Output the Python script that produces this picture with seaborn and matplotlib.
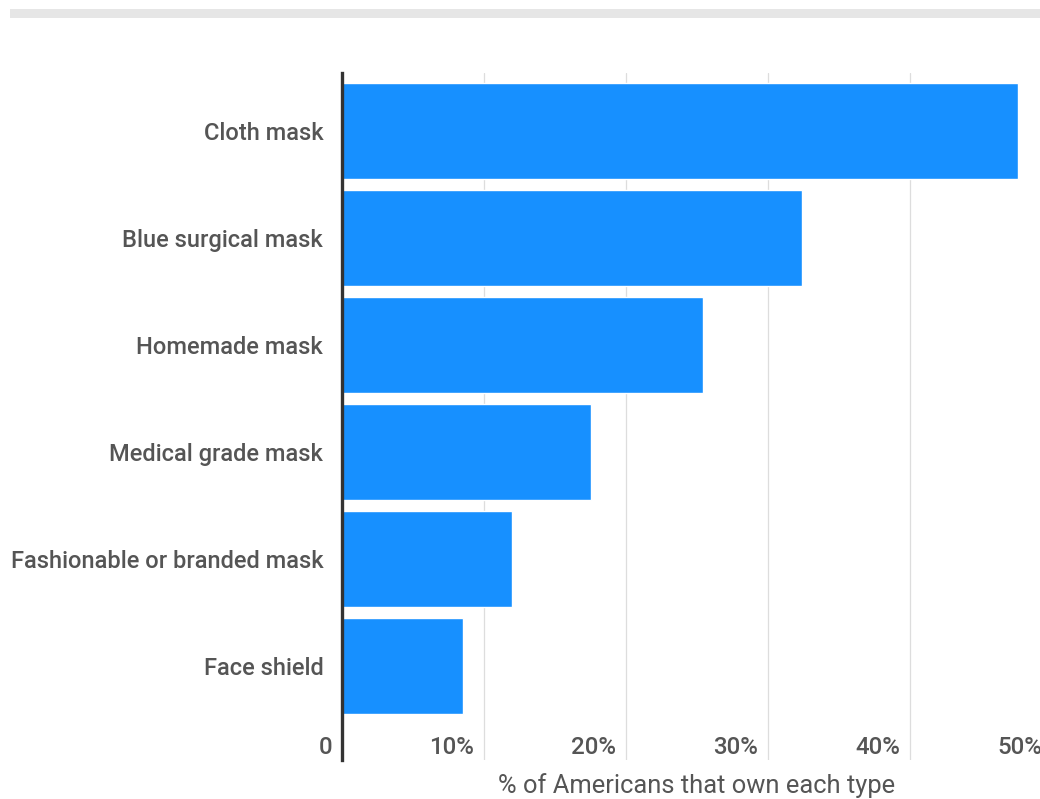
import matplotlib
matplotlib.use("Agg")
import matplotlib.pyplot as plt
from matplotlib.patches import Rectangle
from matplotlib.transforms import ScaledTranslation
import seaborn as sns
import pandas as pd

# Share of Americans owning each type of face covering (%)
mask_types = [
    "Cloth mask",
    "Blue surgical mask",
    "Homemade mask",
    "Medical grade mask",
    "Fashionable or branded mask",
    "Face shield",
]
share_pct = [47.6, 32.4, 25.4, 17.5, 12.0, 8.5]
tick_values = [0, 10, 20, 30, 40, 50]
tick_labels = ["0", "10%", "20%", "30%", "40%", "50%"]
axis_title = "% of Americans that own each type"

df = pd.DataFrame({"type": mask_types, "share": share_pct})

sns.set_theme(style="white")
plt.rcParams["font.family"] = ["Roboto", "DejaVu Sans"]

W, H, DPI = 1040, 799, 100
fig = plt.figure(figsize=(W / DPI, H / DPI), dpi=DPI)
fig.patch.set_facecolor("white")

# thin grey band across the top of the card
fig.patches.append(Rectangle((10 / W, 1 - 18 / H), 1.0, 9 / H,
                             transform=fig.transFigure, facecolor="#e6e6e6",
                             edgecolor="none"))

ax = fig.add_axes([342 / W, 1 - 760 / H, 710 / W, 687 / H])

sns.barplot(data=df, x="share", y="type", orient="h", color="#1790FF",
            saturation=1, width=0.89, ax=ax, zorder=3)

ax.set_xlim(0, 50)
ax.set_ylim(5.879, -0.542)

ax.grid(axis="x", color="#dddddd", linewidth=0.9, zorder=0)
ax.grid(axis="y", visible=False)
for side in ("top", "right", "bottom"):
    ax.spines[side].set_visible(False)
ax.spines["left"].set_color("#333333")
ax.spines["left"].set_linewidth(2.4)
ax.spines["left"].set_zorder(4)

ax.set_ylabel("")
ax.tick_params(axis="y", length=0, pad=13.5, labelsize=17,
               labelcolor="#555555")
for lab in ax.get_yticklabels():
    lab.set_fontweight("medium")

ax.set_xticks(tick_values)
ax.set_xticklabels(tick_labels)
ax.tick_params(axis="x", length=0, pad=0, labelsize=17.3,
               labelcolor="#555555")
shift = ScaledTranslation(-10 / DPI, 12 / DPI, fig.dpi_scale_trans)
for lab in ax.get_xticklabels():
    lab.set_fontweight("medium")
    lab.set_ha("right")
    lab.set_va("center")
    lab.set_transform(lab.get_transform() + shift)

ax.set_xlabel(axis_title, fontsize=18.4, color="#555555", va="center")
ax.xaxis.set_label_coords(0.5, -26 / 687)

fig.savefig("out.png", dpi=DPI, facecolor="white")
